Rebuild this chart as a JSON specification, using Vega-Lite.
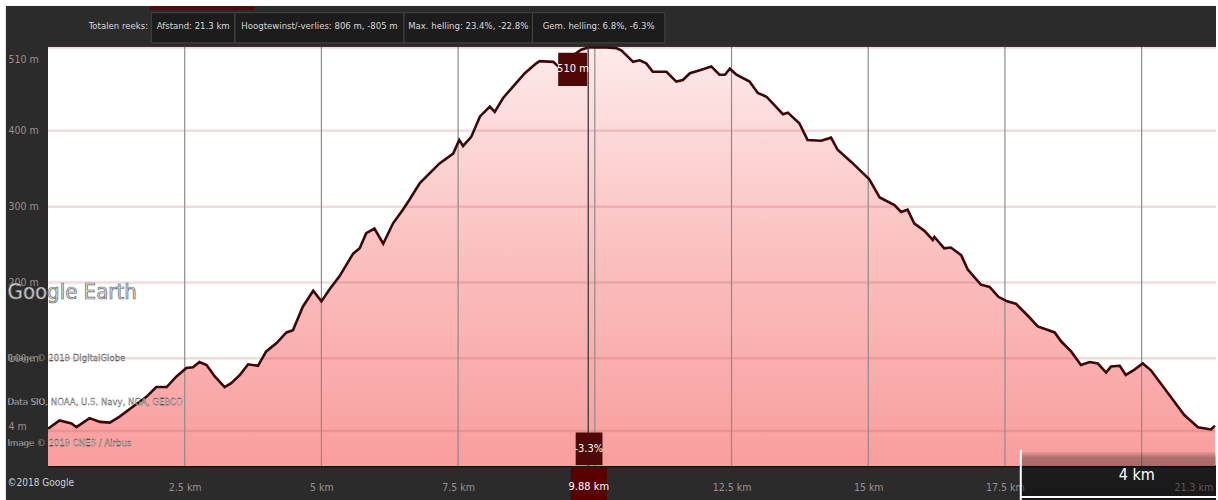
{
  "$schema": "https://vega.github.io/schema/vega-lite/v6.json",
  "width": 1168,
  "height": 419,
  "autosize": {"type": "none"},
  "padding": {"left": 48, "top": 47, "right": 2, "bottom": 34},
  "background": "#2b2b2b",
  "config": {
    "view": {"fill": "white", "stroke": null},
    "font": "Liberation Sans Narrow, DejaVu Sans Condensed, sans-serif"
  },
  "datasets": {
    "profile": [
      {"km": 0.00, "elev": 7}, {"km": 0.21, "elev": 18}, {"km": 0.43, "elev": 14}, {"km": 0.52, "elev": 9},
      {"km": 0.76, "elev": 21}, {"km": 0.95, "elev": 16}, {"km": 1.13, "elev": 15}, {"km": 1.31, "elev": 23},
      {"km": 1.55, "elev": 36}, {"km": 1.80, "elev": 49}, {"km": 1.98, "elev": 62}, {"km": 2.17, "elev": 62},
      {"km": 2.35, "elev": 76}, {"km": 2.53, "elev": 87}, {"km": 2.65, "elev": 88}, {"km": 2.77, "elev": 95},
      {"km": 2.90, "elev": 91}, {"km": 3.05, "elev": 76}, {"km": 3.23, "elev": 62}, {"km": 3.35, "elev": 67},
      {"km": 3.51, "elev": 78}, {"km": 3.66, "elev": 92}, {"km": 3.84, "elev": 90}, {"km": 3.99, "elev": 109},
      {"km": 4.18, "elev": 120}, {"km": 4.36, "elev": 134}, {"km": 4.48, "elev": 137}, {"km": 4.66, "elev": 168},
      {"km": 4.85, "elev": 189}, {"km": 5.00, "elev": 175}, {"km": 5.15, "elev": 191}, {"km": 5.33, "elev": 208},
      {"km": 5.58, "elev": 238}, {"km": 5.70, "elev": 245}, {"km": 5.82, "elev": 265}, {"km": 5.97, "elev": 271},
      {"km": 6.13, "elev": 251}, {"km": 6.31, "elev": 278}, {"km": 6.49, "elev": 296}, {"km": 6.61, "elev": 309},
      {"km": 6.80, "elev": 331}, {"km": 7.16, "elev": 357}, {"km": 7.41, "elev": 370}, {"km": 7.52, "elev": 388},
      {"km": 7.59, "elev": 380}, {"km": 7.74, "elev": 392}, {"km": 7.90, "elev": 419}, {"km": 8.08, "elev": 432},
      {"km": 8.17, "elev": 425}, {"km": 8.32, "elev": 443}, {"km": 8.50, "elev": 458}, {"km": 8.72, "elev": 476},
      {"km": 8.93, "elev": 489}, {"km": 8.99, "elev": 492}, {"km": 9.24, "elev": 491}, {"km": 9.33, "elev": 485},
      {"km": 9.55, "elev": 497}, {"km": 9.75, "elev": 507}, {"km": 9.88, "elev": 510}, {"km": 10.21, "elev": 510},
      {"km": 10.40, "elev": 509}, {"km": 10.49, "elev": 506}, {"km": 10.70, "elev": 491}, {"km": 10.82, "elev": 493},
      {"km": 10.94, "elev": 489}, {"km": 11.06, "elev": 478}, {"km": 11.31, "elev": 478}, {"km": 11.49, "elev": 465},
      {"km": 11.61, "elev": 467}, {"km": 11.74, "elev": 476}, {"km": 11.92, "elev": 480}, {"km": 12.13, "elev": 485},
      {"km": 12.28, "elev": 474}, {"km": 12.38, "elev": 474}, {"km": 12.47, "elev": 482}, {"km": 12.59, "elev": 474},
      {"km": 12.83, "elev": 465}, {"km": 12.98, "elev": 450}, {"km": 13.14, "elev": 445}, {"km": 13.44, "elev": 422},
      {"km": 13.53, "elev": 424}, {"km": 13.74, "elev": 410}, {"km": 13.89, "elev": 388}, {"km": 14.14, "elev": 387},
      {"km": 14.32, "elev": 391}, {"km": 14.44, "elev": 375}, {"km": 14.69, "elev": 359}, {"km": 15.02, "elev": 336},
      {"km": 15.21, "elev": 312}, {"km": 15.48, "elev": 302}, {"km": 15.60, "elev": 293}, {"km": 15.72, "elev": 296},
      {"km": 15.84, "elev": 278}, {"km": 16.03, "elev": 268}, {"km": 16.18, "elev": 256}, {"km": 16.21, "elev": 260},
      {"km": 16.39, "elev": 245}, {"km": 16.51, "elev": 246}, {"km": 16.70, "elev": 236}, {"km": 16.82, "elev": 217},
      {"km": 17.06, "elev": 197}, {"km": 17.22, "elev": 194}, {"km": 17.38, "elev": 181}, {"km": 17.54, "elev": 175},
      {"km": 17.70, "elev": 172}, {"km": 17.92, "elev": 156}, {"km": 18.10, "elev": 142}, {"km": 18.41, "elev": 134},
      {"km": 18.53, "elev": 122}, {"km": 18.71, "elev": 109}, {"km": 18.89, "elev": 91}, {"km": 19.05, "elev": 95},
      {"km": 19.20, "elev": 93}, {"km": 19.35, "elev": 81}, {"km": 19.44, "elev": 89}, {"km": 19.60, "elev": 90},
      {"km": 19.71, "elev": 78}, {"km": 19.87, "elev": 85}, {"km": 20.02, "elev": 93}, {"km": 20.17, "elev": 84},
      {"km": 20.48, "elev": 54}, {"km": 20.78, "elev": 25}, {"km": 21.03, "elev": 9}, {"km": 21.27, "elev": 6},
      {"km": 21.34, "elev": 11}
    ],
    "xgrid": [{"km": 2.5}, {"km": 5}, {"km": 7.5}, {"km": 10}, {"km": 12.5}, {"km": 15}, {"km": 17.5}, {"km": 20}],
    "ygrid": [{"elev": 4}, {"elev": 100}, {"elev": 200}, {"elev": 300}, {"elev": 400}, {"elev": 510}],
    "one": [{}]
  },
  "layer": [
    {
      "data": {"name": "profile"},
      "mark": {
        "type": "area",
        "clip": false,
        "color": {
          "x1": 1, "y1": 1, "x2": 1, "y2": 0, "gradient": "linear",
          "stops": [
            {"offset": 0, "color": "#f99d9d"},
            {"offset": 0.5, "color": "#fbbfbf"},
            {"offset": 1, "color": "#fdeaea"}
          ]
        }
      },
      "encoding": {
        "x": {
          "field": "km", "type": "quantitative",
          "scale": {"domain": [0, 21.36], "nice": false, "zero": false},
          "axis": {
            "title": null, "values": [2.5, 5, 7.5, 10, 12.5, 15, 17.5, 20, 21.3],
            "labelExpr": "datum.value == 10 || datum.value == 20 ? '' : datum.value + ' km'",
            "grid": false, "ticks": false, "tickSize": 0,
            "domain": true, "domainColor": "#151515", "domainWidth": 2,
            "labelColor": "#9a9090", "labelFontSize": 10.5, "labelPadding": 21,
            "labelBaseline": "middle", "labelFlush": 5
          }
        },
        "y": {
          "field": "elev", "type": "quantitative",
          "scale": {"domain": [-42.2, 510.6], "nice": false, "zero": false},
          "axis": {
            "title": null, "values": [10, 100, 200, 300, 400, 494],
            "labelExpr": "datum.value == 494 ? '510 m' : datum.value == 10 ? '4 m' : datum.value + ' m'",
            "grid": false, "ticks": false, "tickSize": 0, "domain": false,
            "labelColor": "#a08c8c", "labelFontSize": 10.5, "labelPadding": 40,
            "labelAlign": "left", "labelBaseline": "middle", "labelFlush": false
          }
        },
        "y2": {"datum": -42.2}
      }
    },
    {
      "data": {"name": "ygrid"},
      "mark": {"type": "rule", "color": "#b05050", "opacity": 0.2, "strokeWidth": 2.5},
      "encoding": {"y": {"field": "elev", "type": "quantitative"}}
    },
    {
      "data": {"name": "xgrid"},
      "mark": {"type": "rule", "color": "#8c8c8c", "strokeWidth": 1.2},
      "encoding": {"x": {"field": "km", "type": "quantitative"}}
    },
    {
      "data": {"name": "profile"},
      "mark": {"type": "line", "color": "#3d0707", "strokeWidth": 2.6, "clip": false},
      "encoding": {
        "x": {"field": "km", "type": "quantitative"},
        "y": {"field": "elev", "type": "quantitative"}
      }
    },
    {
      "data": {"name": "one"},
      "mark": {"type": "rule", "color": "#3a3a3a", "strokeWidth": 1.3},
      "encoding": {"x": {"datum": 9.88, "type": "quantitative"}}
    },
    {
      "data": {"name": "one"},
      "mark": {"type": "rect", "color": "#4f0707", "clip": false},
      "encoding": {
        "x": {"datum": 9.33, "type": "quantitative"}, "x2": {"datum": 9.86},
        "y": {"datum": 503, "type": "quantitative"}, "y2": {"datum": 459}
      }
    },
    {
      "data": {"name": "one"},
      "mark": {"type": "text", "color": "white", "fontSize": 11, "text": "510 m", "clip": false},
      "encoding": {
        "x": {"datum": 9.6, "type": "quantitative"},
        "y": {"datum": 481, "type": "quantitative"}
      }
    },
    {
      "data": {"name": "one"},
      "mark": {"type": "rect", "color": "#4f0707", "clip": false},
      "encoding": {
        "x": {"datum": 9.65, "type": "quantitative"}, "x2": {"datum": 10.14},
        "y": {"datum": 2, "type": "quantitative"}, "y2": {"datum": -41}
      }
    },
    {
      "data": {"name": "one"},
      "mark": {"type": "text", "color": "white", "fontSize": 11, "text": "-3.3%", "clip": false},
      "encoding": {
        "x": {"datum": 9.89, "type": "quantitative"},
        "y": {"datum": -20, "type": "quantitative"}
      }
    },
    {
      "data": {"name": "one"},
      "mark": {"type": "rect", "color": "#5a0000", "clip": false},
      "encoding": {
        "x": {"datum": 9.56, "type": "quantitative"}, "x2": {"datum": 10.22},
        "y": {"datum": -45, "type": "quantitative"}, "y2": {"datum": -87}
      }
    },
    {
      "data": {"name": "one"},
      "mark": {"type": "text", "color": "white", "fontSize": 11, "text": "9.88 km", "clip": false},
      "encoding": {
        "x": {"datum": 9.89, "type": "quantitative"},
        "y": {"datum": -70, "type": "quantitative"}
      }
    },
    {
      "data": {"name": "one"},
      "mark": {"type": "rect", "color": "white", "clip": false},
      "encoding": {
        "x": {"datum": -0.9, "type": "quantitative"}, "x2": {"datum": 21.45},
        "y": {"datum": 573, "type": "quantitative"}, "y2": {"datum": 564.6}
      }
    },
    {
      "data": {"name": "one"},
      "mark": {"type": "rect", "color": "white", "clip": false},
      "encoding": {
        "x": {"datum": -0.9, "type": "quantitative"}, "x2": {"datum": -0.77},
        "y": {"datum": 573, "type": "quantitative"}, "y2": {"datum": -88}
      }
    },
    {
      "data": {"name": "one"},
      "mark": {"type": "rect", "color": "white", "clip": false},
      "encoding": {
        "x": {"datum": 21.36, "type": "quantitative"}, "x2": {"datum": 21.45},
        "y": {"datum": 573, "type": "quantitative"}, "y2": {"datum": -88}
      }
    },
    {
      "data": {"name": "one"},
      "mark": {"type": "text", "align": "left", "fontSize": 22, "text": "Google Earth", "fill": "#e2e2e2", "stroke": "#6a6a6a", "strokeWidth": 0.7, "clip": false},
      "encoding": {
        "x": {"datum": -0.74, "type": "quantitative"},
        "y": {"datum": 187, "type": "quantitative"}
      }
    },
    {
      "data": {"name": "one"},
      "mark": {"type": "text", "align": "left", "fontSize": 9.5, "text": "Image © 2018 DigitalGlobe", "fill": "white", "stroke": "#222222", "strokeWidth": 0.3, "clip": false},
      "encoding": {
        "x": {"datum": -0.74, "type": "quantitative"},
        "y": {"datum": 100, "type": "quantitative"}
      }
    },
    {
      "data": {"name": "one"},
      "mark": {"type": "text", "align": "left", "fontSize": 9.5, "text": "Data SIO, NOAA, U.S. Navy, NGA, GEBCO", "fill": "white", "stroke": "#222222", "strokeWidth": 0.3, "clip": false},
      "encoding": {
        "x": {"datum": -0.74, "type": "quantitative"},
        "y": {"datum": 42, "type": "quantitative"}
      }
    },
    {
      "data": {"name": "one"},
      "mark": {"type": "text", "align": "left", "fontSize": 9.5, "text": "Image © 2018 CNES / Airbus", "fill": "white", "stroke": "#222222", "strokeWidth": 0.3, "clip": false},
      "encoding": {
        "x": {"datum": -0.74, "type": "quantitative"},
        "y": {"datum": -12, "type": "quantitative"}
      }
    },
    {
      "data": {"name": "one"},
      "mark": {"type": "text", "align": "left", "fontSize": 10, "text": "©2018 Google", "fill": "#d0d0d0", "clip": false},
      "encoding": {
        "x": {"datum": -0.74, "type": "quantitative"},
        "y": {"datum": -65, "type": "quantitative"}
      }
    },
    {
      "data": {"name": "one"},
      "mark": {"type": "rect", "color": "#4a0c0c", "clip": false},
      "encoding": {
        "x": {"datum": 1.86, "type": "quantitative"}, "x2": {"datum": 3.78},
        "y": {"datum": 564.6, "type": "quantitative"}, "y2": {"datum": 559.4}
      }
    },
    {
      "data": {"name": "one"},
      "mark": {"type": "rect", "fill": "#1c1c1c", "stroke": "#444444", "strokeWidth": 1, "clip": false},
      "encoding": {
        "x": {"datum": 1.89, "type": "quantitative"}, "x2": {"datum": 3.42},
        "y": {"datum": 555.8, "type": "quantitative"}, "y2": {"datum": 516.2}
      }
    },
    {
      "data": {"name": "one"},
      "mark": {"type": "rect", "fill": "#1c1c1c", "stroke": "#444444", "strokeWidth": 1, "clip": false},
      "encoding": {
        "x": {"datum": 3.42, "type": "quantitative"}, "x2": {"datum": 6.51},
        "y": {"datum": 555.8, "type": "quantitative"}, "y2": {"datum": 516.2}
      }
    },
    {
      "data": {"name": "one"},
      "mark": {"type": "rect", "fill": "#1c1c1c", "stroke": "#444444", "strokeWidth": 1, "clip": false},
      "encoding": {
        "x": {"datum": 6.51, "type": "quantitative"}, "x2": {"datum": 8.86},
        "y": {"datum": 555.8, "type": "quantitative"}, "y2": {"datum": 516.2}
      }
    },
    {
      "data": {"name": "one"},
      "mark": {"type": "rect", "fill": "#1c1c1c", "stroke": "#444444", "strokeWidth": 1, "clip": false},
      "encoding": {
        "x": {"datum": 8.86, "type": "quantitative"}, "x2": {"datum": 11.28},
        "y": {"datum": 555.8, "type": "quantitative"}, "y2": {"datum": 516.2}
      }
    },
    {
      "data": {"name": "one"},
      "mark": {"type": "text", "align": "right", "fontSize": 9.5, "color": "#d8d8d8", "text": "Totalen reeks:", "clip": false},
      "encoding": {
        "x": {"datum": 1.83, "type": "quantitative"},
        "y": {"datum": 538, "type": "quantitative"}
      }
    },
    {
      "data": {"name": "one"},
      "mark": {"type": "text", "fontSize": 9.5, "color": "#d8d8d8", "text": "Afstand: 21.3 km", "clip": false},
      "encoding": {
        "x": {"datum": 2.655, "type": "quantitative"},
        "y": {"datum": 538, "type": "quantitative"}
      }
    },
    {
      "data": {"name": "one"},
      "mark": {"type": "text", "fontSize": 9.5, "color": "#d8d8d8", "text": "Hoogtewinst/-verlies: 806 m, -805 m", "clip": false},
      "encoding": {
        "x": {"datum": 4.965, "type": "quantitative"},
        "y": {"datum": 538, "type": "quantitative"}
      }
    },
    {
      "data": {"name": "one"},
      "mark": {"type": "text", "fontSize": 9.5, "color": "#d8d8d8", "text": "Max. helling: 23.4%, -22.8%", "clip": false},
      "encoding": {
        "x": {"datum": 7.685, "type": "quantitative"},
        "y": {"datum": 538, "type": "quantitative"}
      }
    },
    {
      "data": {"name": "one"},
      "mark": {"type": "text", "fontSize": 9.5, "color": "#d8d8d8", "text": "Gem. helling: 6.8%, -6.3%", "clip": false},
      "encoding": {
        "x": {"datum": 10.07, "type": "quantitative"},
        "y": {"datum": 538, "type": "quantitative"}
      }
    },
    {
      "data": {"name": "one"},
      "mark": {
        "type": "rect", "clip": false,
        "fill": {
          "x1": 0, "y1": 0, "x2": 0, "y2": 1, "gradient": "linear",
          "stops": [
            {"offset": 0, "color": "rgba(0,0,0,0.05)"},
            {"offset": 0.12, "color": "rgba(0,0,0,0.3)"},
            {"offset": 1, "color": "rgba(0,0,0,0.45)"}
          ]
        }
      },
      "encoding": {
        "x": {"datum": 17.79, "type": "quantitative"}, "x2": {"datum": 21.36},
        "y": {"datum": -23.7, "type": "quantitative"}, "y2": {"datum": -87.1}
      }
    },
    {
      "data": {"name": "one"},
      "mark": {"type": "rule", "color": "white", "strokeWidth": 2, "clip": false},
      "encoding": {
        "x": {"datum": 17.79, "type": "quantitative"},
        "y": {"datum": -21, "type": "quantitative"}, "y2": {"datum": -87.1}
      }
    },
    {
      "data": {"name": "one"},
      "mark": {"type": "rule", "color": "white", "strokeWidth": 2, "clip": false},
      "encoding": {
        "x": {"datum": 17.79, "type": "quantitative"}, "x2": {"datum": 21.36},
        "y": {"datum": -83, "type": "quantitative"}
      }
    },
    {
      "data": {"name": "one"},
      "mark": {"type": "text", "fontSize": 16, "color": "white", "text": "4 km", "clip": false},
      "encoding": {
        "x": {"datum": 19.91, "type": "quantitative"},
        "y": {"datum": -54, "type": "quantitative"}
      }
    }
  ]
}
